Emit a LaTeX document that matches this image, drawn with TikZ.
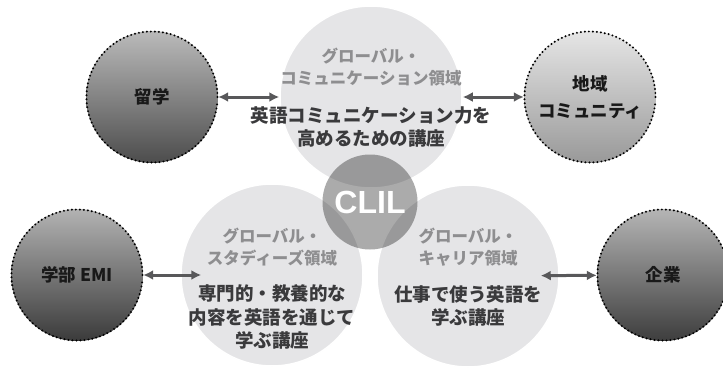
\documentclass[tikz,border=0pt]{standalone}
\usepackage{fontspec}
\setmainfont{Noto Sans CJK JP}
\newfontfamily\latinsans{Liberation Sans}
\usetikzlibrary{arrows.meta}

\definecolor{areafill}{HTML}{E5E5E7}
\definecolor{titlegray}{HTML}{8E8E90}
\definecolor{bodygray}{HTML}{3A3A3C}
\definecolor{linkgray}{HTML}{58585A}

\tikzset{
  area/.style={circle, fill=areafill, draw=white, line width=1.5pt,
    minimum size=182pt, inner sep=0pt},
  areatitle/.style={align=center, text=titlegray,
    font=\bfseries\fontsize{16.5}{22}\selectfont},
  areabody/.style={align=center, text=bodygray,
    font=\bfseries\fontsize{18.5}{23.5}\selectfont},
  partner/.style={circle, minimum size=132pt, inner sep=0pt,
    align=center, text=black!90, font=\bfseries\fontsize{17.5}{27}\selectfont},
  link/.style={{Latex[length=10pt,width=10pt]}-{Latex[length=10pt,width=10pt]},
    draw=linkgray, line width=3pt}
}

\begin{document}
\begin{tikzpicture}[x=1pt, y=-1pt]
  \useasboundingbox (0,0) rectangle (723,367);

  % three areas
  \node[area] (gcomm) at (371,97) {};
  \node[area] (gstudy) at (272,275) {};
  \node[area] (gcareer) at (468,276) {};

  \node[areatitle] (gcomm-t) at (371,67) {グローバル・\\コミュニケーション領域};
  \node[areabody] (gcomm-c) at (371,127) {英語コミュニケーション力を\\高めるための講座};

  \node[areatitle] (gstudy-t) at (272,247.5) {グローバル・\\スタディーズ領域};
  \node[areabody] (gstudy-c) at (272,317) {専門的・教養的な\\内容を英語を通じて\\学ぶ講座};

  \node[areatitle] (gcareer-t) at (468,247.5) {グローバル・\\キャリア領域};
  \node[areabody] (gcareer-c) at (468,306) {仕事で使う英語を\\学ぶ講座};

  % CLIL in the middle
  \node[circle, minimum size=95pt, inner sep=0pt, fill=black, fill opacity=0.33,
    text opacity=1, text=white, font=\latinsans\bfseries\fontsize{32}{32}\selectfont]
    (clil) at (370,202) {CLIL};

  % partners outside
  \node[partner, top color=black!27, bottom color=black!70] (ryugaku) at (152,97) {留学};
  \node[partner, top color=black!10, bottom color=black!40] (chiiki) at (590,97) {地域\\コミュニティ};
  \node[partner, top color=black!30, bottom color=black!77] (gakubu) at (77,275) {学部 EMI};
  \node[partner, top color=black!29, bottom color=black!76] (kigyo) at (663,275) {企業};

  % dotted rims
  \foreach \n in {ryugaku,chiiki,gakubu,kigyo}
    \foreach \a in {0,3.5,...,356.5}
      \fill[black] (\n.center) ++(\a:65.5pt) circle (1.1pt);

  \draw[link] (ryugaku) -- (gcomm);
  \draw[link] (gcomm) -- (chiiki);
  \draw[link, shorten >=-21pt] (gakubu) -- (gstudy);
  \draw[link, shorten >=-19pt] (kigyo) -- (gcareer);
\end{tikzpicture}
\end{document}
